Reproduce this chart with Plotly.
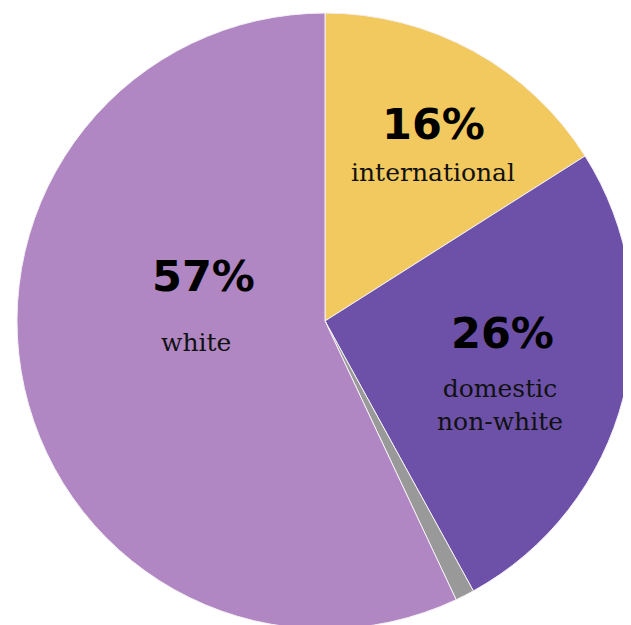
import plotly.graph_objects as go

categories = ["international", "domestic<br>non-white", "other", "white"]
values = [16, 26, 1, 57]
colors = ["#F2C95F", "#6D51A9", "#999999", "#B087C3"]
show_label = [True, True, False, True]

W, H = 631, 625
BODY = 8  # default page body margin offset
ML, MR, MT, MB = 9, 6, 5, 4
PW, PH = W - ML - MR, H - MT - MB

fig = go.Figure(go.Pie(
    labels=categories,
    values=values,
    sort=False,
    direction="clockwise",
    rotation=0,
    marker=dict(colors=colors, line=dict(color="#F4F0F4", width=1)),
    textinfo="none",
    hoverinfo="label+percent",
    showlegend=False,
))

# label positions (page pixels) for pct / name text
pct_pos = {0: (433, 124), 1: (502, 333), 3: (203, 276)}
name_pos = {0: (433, 173), 1: (500, 405), 3: (196, 342)}


def to_paper(px, py):
    return (px - BODY - ML) / PW, 1 - (py - BODY - MT) / PH


annotations = []
for i, (cat, v) in enumerate(zip(categories, values)):
    if not show_label[i]:
        continue
    x, y = to_paper(*pct_pos[i])
    annotations.append(dict(
        x=x, y=y, xref="paper", yref="paper",
        text=f"<b>{v}%</b>", showarrow=False,
        font=dict(family="DejaVu Sans", size=43, color="#000000"),
        xanchor="center", yanchor="middle",
    ))
    x, y = to_paper(*name_pos[i])
    annotations.append(dict(
        x=x, y=y, xref="paper", yref="paper",
        text=cat, showarrow=False,
        font=dict(family="DejaVu Serif", size=25, color="#111111"),
        xanchor="center", yanchor="middle",
    ))

fig.update_layout(
    width=W, height=H,
    margin=dict(l=ML, r=MR, t=MT, b=MB),
    paper_bgcolor="white",
    plot_bgcolor="white",
    annotations=annotations,
)

fig.write_html("out.html")
